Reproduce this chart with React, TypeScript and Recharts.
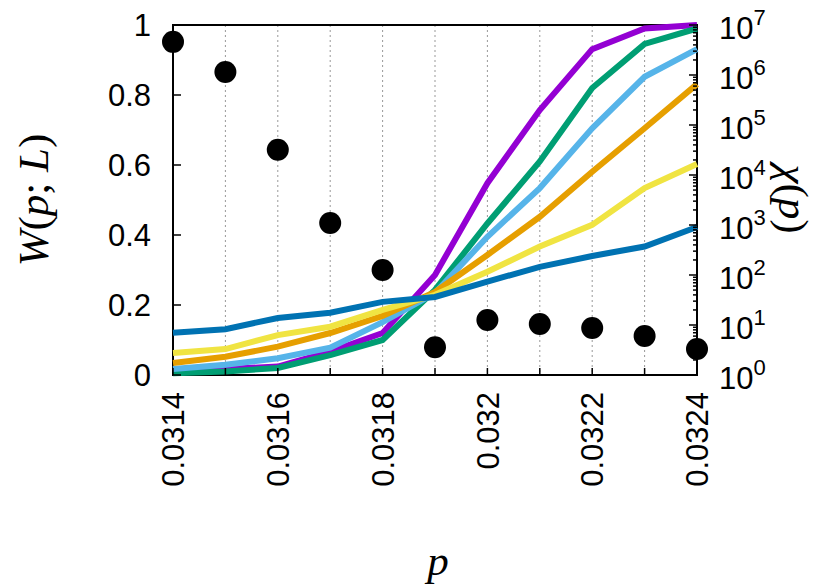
import React from "react";
import {
  ComposedChart,
  Line,
  Scatter,
  XAxis,
  YAxis,
  CartesianGrid,
  ReferenceArea,
} from "recharts";

// p values on the x axis
const pValues = [0.0314, 0.0315, 0.0316, 0.0317, 0.0318, 0.0319, 0.032, 0.0321, 0.0322, 0.0323, 0.0324];
const xTickLabels = ["0.0314", "", "0.0316", "", "0.0318", "", "0.032", "", "0.0322", "", "0.0324"];

// W(p; L) curves, one per system size
const wPurple = [0.01, 0.017, 0.024, 0.067, 0.12, 0.286, 0.548, 0.757, 0.931, 0.99, 1.0];
const wGreen = [0.005, 0.01, 0.02, 0.057, 0.1, 0.243, 0.433, 0.61, 0.82, 0.946, 0.99];
const wLightBlue = [0.017, 0.029, 0.048, 0.078, 0.151, 0.234, 0.395, 0.534, 0.705, 0.852, 0.931];
const wOrange = [0.034, 0.052, 0.081, 0.12, 0.169, 0.237, 0.343, 0.452, 0.581, 0.705, 0.831];
const wYellow = [0.063, 0.074, 0.114, 0.138, 0.186, 0.229, 0.295, 0.367, 0.429, 0.534, 0.603];
const wBlue = [0.121, 0.131, 0.163, 0.178, 0.209, 0.223, 0.267, 0.309, 0.34, 0.367, 0.423];

// chi(p), right log axis
const chiValues = [4.6e6, 1.15e6, 3.2e4, 1.1e3, 126, 3.6, 12.6, 10.5, 8.7, 6, 3.3];

const leftTicks = [0, 0.2, 0.4, 0.6, 0.8, 1];
const leftTickLabels = ["0", "0.2", "0.4", "0.6", "0.8", "1"];
const decadeExponents = [0, 1, 2, 3, 4, 5, 6, 7];

const rows = pValues.map((p, i) => ({
  p,
  purple: wPurple[i],
  green: wGreen[i],
  lightBlue: wLightBlue[i],
  orange: wOrange[i],
  yellow: wYellow[i],
  blue: wBlue[i],
}));
const chiPoints = pValues.map((p, i) => ({ p, chi: chiValues[i] }));

// major + minor ticks of the log axis
const rightTicks: number[] = [];
decadeExponents.forEach((e) => {
  const base = Math.pow(10, e);
  rightTicks.push(base);
  if (e < 7) for (let k = 2; k <= 9; k++) rightTicks.push(k * base);
});

const series = [
  { key: "purple", color: "#9400d3" },
  { key: "green", color: "#009e73" },
  { key: "lightBlue", color: "#56b4e9" },
  { key: "orange", color: "#e69f00" },
  { key: "yellow", color: "#f0e442" },
  { key: "blue", color: "#0072b2" },
];

const tickFont = { fontFamily: "'Liberation Sans', Arial, sans-serif", fontSize: 31, fill: "#000" };

function XTick(props: any) {
  const { x, y, index } = props;
  const label = xTickLabels[index];
  return (
    <g>
      <line x1={x} y1={y} x2={x} y2={y - 7} stroke="#000" strokeWidth={1.5} />
      {label && (
        <text
          x={x}
          y={y + 17}
          transform={`rotate(-90, ${x}, ${y + 17})`}
          textAnchor="end"
          dy="0.36em"
          {...tickFont}
        >
          {label}
        </text>
      )}
    </g>
  );
}

function LeftTick(props: any) {
  const { x, y, index } = props;
  return (
    <g>
      <line x1={x} y1={y} x2={x + 8} y2={y} stroke="#000" strokeWidth={1.5} />
      <text x={x - 22} y={y} textAnchor="end" dy="0.36em" {...tickFont}>
        {leftTickLabels[index]}
      </text>
    </g>
  );
}

function RightTick(props: any) {
  const { x, y, payload } = props;
  const exp = Math.log10(payload.value);
  const major = Math.abs(exp - Math.round(exp)) < 1e-6;
  return (
    <g>
      <line x1={x} y1={y} x2={x - (major ? 8 : 4)} y2={y} stroke="#000" strokeWidth={1.5} />
      {major && (
        <text x={x + 22} y={y} dy="0.45em" {...tickFont}>
          10
          <tspan dy={-14} fontSize={22}>
            {Math.round(exp)}
          </tspan>
        </text>
      )}
    </g>
  );
}

const serif = "'Liberation Serif', 'Times New Roman', serif";

function AxisTitle({ cx, cy, rotate, children }: any) {
  return (
    <div
      style={{
        position: "absolute",
        left: cx,
        top: cy,
        transform: `translate(-50%, -50%) rotate(${rotate}deg)`,
        fontFamily: serif,
        fontSize: 43,
        lineHeight: 1,
        whiteSpace: "nowrap",
        color: "#000",
      }}
    >
      {children}
    </div>
  );
}

export default function App() {
  return (
    <div style={{ position: "absolute", left: 0, top: 0, width: 830, height: 587, background: "#fff" }}>
      <ComposedChart
        width={830}
        height={587}
        data={rows}
        margin={{ top: 25, right: 33, left: 73, bottom: 62 }}
      >
        <CartesianGrid horizontal={false} stroke="#999" strokeDasharray="2 3" yAxisId="left" />
        <XAxis
          dataKey="p"
          type="number"
          domain={[0.0314, 0.0324]}
          ticks={pValues}
          interval={0}
          height={150}
          tickSize={0}
          tickMargin={0}
          axisLine={false}
          tickLine={false}
          tick={<XTick />}
        />
        <YAxis
          yAxisId="left"
          domain={[0, 1]}
          ticks={leftTicks}
          interval={0}
          width={100}
          tickSize={0}
          tickMargin={0}
          axisLine={false}
          tickLine={false}
          tick={<LeftTick />}
        />
        <YAxis
          yAxisId="right"
          orientation="right"
          scale="log"
          domain={[1, 1e7]}
          ticks={rightTicks}
          interval={0}
          width={100}
          tickSize={0}
          tickMargin={0}
          axisLine={false}
          tickLine={false}
          tick={<RightTick />}
        />
        <ReferenceArea
          yAxisId="left"
          x1={0.0314}
          x2={0.0324}
          y1={0}
          y2={1}
          fill="none"
          stroke="#000"
          strokeWidth={2}
          fillOpacity={0}
        />
        {series.map((s) => (
          <Line
            key={s.key}
            yAxisId="left"
            type="linear"
            dataKey={s.key}
            stroke={s.color}
            strokeWidth={6}
            dot={false}
            isAnimationActive={false}
          />
        ))}
        <Scatter
          yAxisId="right"
          data={chiPoints}
          dataKey="chi"
          fill="#000"
          isAnimationActive={false}
          shape={(props: any) => <circle cx={props.cx} cy={props.cy} r={11} fill="#000" />}
        />
      </ComposedChart>
      <AxisTitle cx={33} cy={200} rotate={-90}>
        <i>W</i>(<i>p</i>; <i>L</i>)
      </AxisTitle>
      <AxisTitle cx={793} cy={199} rotate={90}>
        <i>χ</i>(<i>p</i>)
      </AxisTitle>
      <AxisTitle cx={438} cy={560} rotate={0}>
        <i>p</i>
      </AxisTitle>
    </div>
  );
}
